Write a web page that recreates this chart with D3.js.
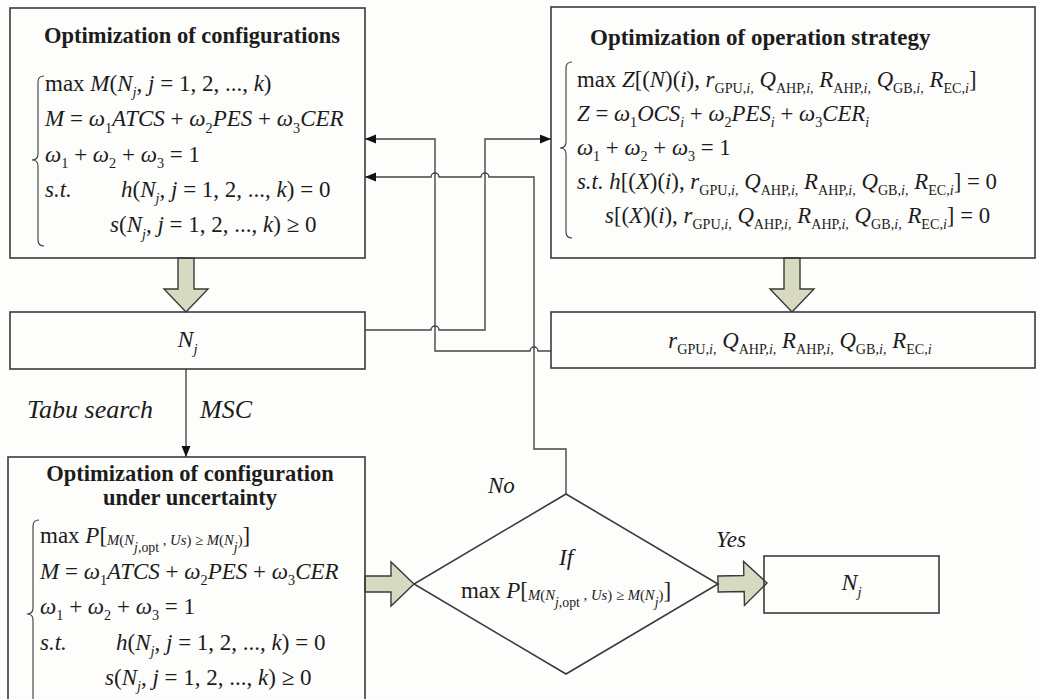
<!DOCTYPE html>
<html>
<head>
<meta charset="utf-8">
<script src="https://cdn.jsdelivr.net/npm/d3@7"></script>
<style>
  body { margin: 0; background: #fdfdfb; }
  svg { display: block; }
  .box { fill: none; stroke: #3a3a3a; stroke-width: 1.6px; }
  .wire { fill: none; stroke: #454545; stroke-width: 1.4px; }
  .fat { fill: #d8d9c1; stroke: #3a3a3a; stroke-width: 1.4px; stroke-linejoin: miter; }
  .brace { fill: none; stroke: #3a3a3a; stroke-width: 1.1px; }
</style>
</head>
<body>
<svg width="1039" height="699"></svg>
<script>
// ---- texts (mini markup: style:text separated by |, t:n = jump to x offset n) ----
var titleConfig = ["Optimization of configurations"];
var titleStrategy = ["Optimization of operation strategy"];
var titleUncertain = ["Optimization of configuration", "under uncertainty"];

var nj = "i:N|si:j";
var rVars = "i:r|s:GPU,|si:i,|r: |i:Q|s:AHP,|si:i,|r: |i:R|s:AHP,|si:i,|r: |i:Q|s:GB,|si:i,|r: |i:R|s:EC,|si:i";
var probMax = "r:max |i:P|r:[|m:M|mr:(|m:N|ms:j|msr:,opt|mr: , |m:Us|mr:) ≥ |m:M|mr:(|m:N|ms:j|mr:)|r:]";
var jRange = "|i:N|si:j|r:, |i:j|r: = 1, 2, ..., |i:k|r:)";

var eqConfig = [
  "r:max |i:M|r:(" + jRange,
  "i:M|r: = |i:ω|s:1|i:ATCS|r: + |i:ω|s:2|i:PES|r: + |i:ω|s:3|i:CER",
  "i:ω|s:1|r: + |i:ω|s:2|r: + |i:ω|s:3|r: = 1",
  "i:s.t.|t:76|i:h|r:(" + jRange + "|r: = 0",
  "t:65|i:s|r:(" + jRange + "|r: ≥ 0"
];
var eqStrategy = [
  "r:max |i:Z|r:[(|i:N|r:)(|i:i|r:), |" + rVars + "|r:]",
  "i:Z|r: = |i:ω|s:1|i:OCS|si:i|r: + |i:ω|s:2|i:PES|si:i|r: + |i:ω|s:3|i:CER|si:i",
  "i:ω|s:1|r: + |i:ω|s:2|r: + |i:ω|s:3|r: = 1",
  "i:s.t. h|r:[(|i:X|r:)(|i:i|r:), |" + rVars + "|r:] = 0",
  "t:28|i:s|r:[(|i:X|r:)(|i:i|r:), |" + rVars + "|r:] = 0"
];
var eqUncertain = [probMax].concat(eqConfig.slice(1));

var decisionText = ["i:If", probMax];
var flowLabels = [
  {text: "Tabu search", x: 27, y: 418, size: 26},
  {text: "MSC", x: 200, y: 418, size: 26},
  {text: "No", x: 488, y: 493, size: 23},
  {text: "Yes", x: 716, y: 547, size: 23}
];

// ---- layout ----
var boxA = {x: 10, y: 8, w: 355, h: 250},
    boxB = {x: 551, y: 7, w: 484, h: 251},
    boxC = {x: 10, y: 312, w: 355, h: 57},
    boxD = {x: 551, y: 312, w: 484, h: 56},
    boxE = {x: 8, y: 457, w: 357, h: 300},
    boxF = {x: 764, y: 556, w: 175, h: 57},
    dia = {cx: 566, cy: 584, hw: 152, hh: 90};

var FONT = "'Liberation Serif', 'Times New Roman', Tinos, 'DejaVu Serif', serif";

var svg = d3.select("svg");
svg.append("rect").attr("width", 1039).attr("height", 699).attr("fill", "#fdfdfb");

svg.append("defs").append("marker")
    .attr("id", "head").attr("markerUnits", "userSpaceOnUse")
    .attr("markerWidth", 12).attr("markerHeight", 10)
    .attr("refX", 11).attr("refY", 4.5).attr("orient", "auto")
  .append("path").attr("d", "M0,0L11,4.5L0,9Z").attr("fill", "#111");

// style: [italic, size factor, baseline shift (em)]
var STY = {
  r: [0, 1, 0], i: [1, 1, 0], s: [0, .62, .28], si: [1, .62, .28],
  m: [1, .64, .1], mr: [0, .64, .1], ms: [1, .6, .4], msr: [0, .6, .4]
};

function txt(x, y, size) {
  return svg.append("text").attr("x", x).attr("y", y)
    .attr("font-family", FONT).style("font-family", FONT)
    .style("font-size", size + "px").style("white-space", "pre").attr("fill", "#1c1c1c");
}

function mathLine(str, x, y, size, anchor) {
  var t = txt(x, y, size).attr("text-anchor", anchor || "start");
  var cur = 0, jump = null;
  str.split("|").forEach(function(seg) {
    var k = seg.indexOf(":"), st = seg.slice(0, k), s0 = seg.slice(k + 1);
    if (st === "t") { jump = x + (+s0); return; }
    var s = STY[st], shift = s[2] * size;
    var ts = t.append("tspan").text(s0)
        .style("font-style", s[0] ? "italic" : "normal")
        .style("font-size", (size * s[1]) + "px")
        .attr("dy", shift - cur);
    if (jump !== null) { ts.attr("x", jump); jump = null; }
    cur = shift;
  });
  return t;
}

function title(lines, x, y0, step, size, anchor) {
  lines.forEach(function(l, i) {
    txt(x, y0 + i * step, size).attr("text-anchor", anchor)
      .style("font-weight", "bold").text(l);
  });
}

function brace(x0, y0, y1, ym) {
  var w = 6, q = 6;
  var d = "M" + (x0 + w) + "," + y0 + "Q" + x0 + "," + y0 + " " + x0 + "," + (y0 + q) +
    "L" + x0 + "," + (ym - q) + "Q" + x0 + "," + ym + " " + (x0 - w) + "," + ym +
    "Q" + x0 + "," + ym + " " + x0 + "," + (ym + q) +
    "L" + x0 + "," + (y1 - q) + "Q" + x0 + "," + y1 + " " + (x0 + w) + "," + y1;
  svg.append("path").attr("class", "brace").attr("d", d);
}

function fatArrow(x0, y0, x1, y1) {
  var len = Math.hypot(x1 - x0, y1 - y0), bw = 8, hw = 22, hl = 23;
  var pts = [[0, -bw], [len - hl, -bw], [len - hl, -hw], [len, 0], [len - hl, hw], [len - hl, bw], [0, bw]];
  var ang = Math.atan2(y1 - y0, x1 - x0) * 180 / Math.PI;
  svg.append("path").attr("class", "fat").attr("d", d3.line()(pts) + "Z")
    .attr("transform", "translate(" + x0 + "," + y0 + ") rotate(" + ang + ")");
}

function wire(pts, hops, arrow) {
  var r = 4, d = "M" + pts[0];
  for (var i = 1; i < pts.length; i++) {
    var a = pts[i - 1], b = pts[i];
    if (a[1] === b[1]) {
      var dir = b[0] > a[0] ? 1 : -1;
      hops.filter(function(h) { return (h - a[0]) * (h - b[0]) < 0; })
        .sort(function(p, q) { return dir * (p - q); })
        .forEach(function(h) {
          d += "L" + (h - dir * r) + "," + a[1] + "A" + r + "," + r + " 0 0 " + (dir > 0 ? 1 : 0) +
               " " + (h + dir * r) + "," + a[1];
        });
    }
    d += "L" + b;
  }
  var p = svg.append("path").attr("class", "wire").attr("d", d);
  if (arrow) p.attr("marker-end", "url(#head)");
}

// ---- wires ----
var xA = 435, xB = 485, xNo = 534;
wire([[boxC.x + boxC.w, 330], [xB, 330], [xB, 139], [boxB.x, 139]], [xA], true);
wire([[boxD.x, 351], [xA, 351], [xA, 139], [boxA.x + boxA.w, 139]], [xNo], true);
wire([[dia.cx, dia.cy - dia.hh], [dia.cx, 449], [xNo, 449], [xNo, 177], [boxA.x + boxA.w, 177]], [xB, xA], true);
wire([[186, boxC.y + boxC.h], [186, boxE.y]], [], true);

// ---- fat arrows ----
fatArrow(186, boxA.y + boxA.h, 186, boxC.y);
fatArrow(792, boxB.y + boxB.h, 792, boxD.y);
fatArrow(boxE.x + boxE.w, dia.cy, dia.cx - dia.hw, dia.cy);
fatArrow(dia.cx + dia.hw, dia.cy, boxF.x + 3, dia.cy - 1);

// ---- boxes ----
[boxA, boxB, boxC, boxD, boxE, boxF].forEach(function(b) {
  svg.append("rect").attr("class", "box").attr("x", b.x).attr("y", b.y).attr("width", b.w).attr("height", b.h);
});
svg.append("path").attr("class", "box")
  .attr("d", d3.line()([[dia.cx, dia.cy - dia.hh], [dia.cx + dia.hw, dia.cy], [dia.cx, dia.cy + dia.hh], [dia.cx - dia.hw, dia.cy]]) + "Z");

// ---- box contents ----
title(titleConfig, 192, 43, 24, 22.5, "middle");
eqConfig.forEach(function(l, i) { mathLine(l, 45, 91 + i * 35.3, 23); });
brace(38, 76, 246, 160);

title(titleStrategy, 590, 45, 24, 23, "start");
eqStrategy.forEach(function(l, i) { mathLine(l, 577, 87 + i * 34, 22.8); });
brace(566, 62, 238, 148);

mathLine(nj, boxC.x + boxC.w / 2, 347, 24, "middle");
mathLine(rVars, 800, 348, 22.8, "middle");

title(titleUncertain, 190, 481, 24, 22.5, "middle");
eqUncertain.forEach(function(l, i) { mathLine(l, 40, 543 + i * 35.5, 23); });
brace(33, 520, 720, 614);

mathLine(decisionText[0], dia.cx, 565, 23, "middle");
mathLine(decisionText[1], dia.cx, 598, 23, "middle");
mathLine(nj, boxF.x + boxF.w / 2, 590, 24, "middle");

flowLabels.forEach(function(d) {
  txt(d.x, d.y, d.size).style("font-style", "italic").text(d.text);
});
</script>
</body>
</html>
